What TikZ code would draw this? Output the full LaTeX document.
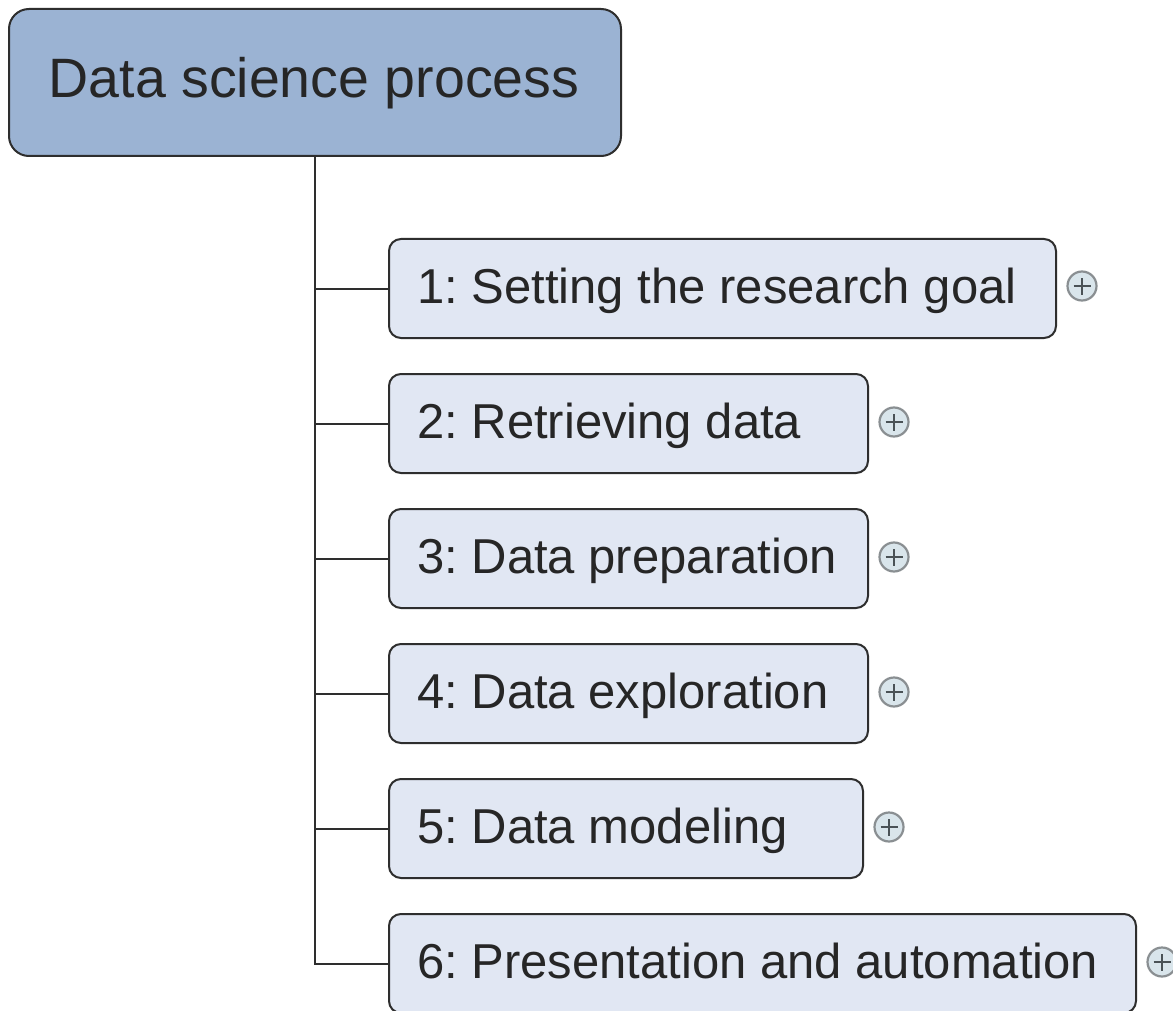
\documentclass[tikz,border=0pt]{standalone}
\usepackage{fontspec}
\setmainfont{Liberation Sans}
\frenchspacing
\definecolor{rootfill}{HTML}{9BB3D3}
\definecolor{childfill}{HTML}{E1E7F3}
\definecolor{edgecol}{HTML}{2E2E2E}
\definecolor{plusfill}{HTML}{D9E5EB}
\definecolor{plusring}{HTML}{8A8F92}
\definecolor{plusbar}{HTML}{4A5256}
\tikzset{
  rootbox/.style={draw=edgecol, line width=2pt, fill=rootfill, rounded corners=20pt, inner sep=0pt},
  childbox/.style={draw=edgecol, line width=2pt, fill=childfill, rounded corners=12pt, inner sep=0pt},
  lbl/.style={anchor=west, inner sep=0pt, text height=35.1pt, text depth=0pt, text=black!85,
    font=\fontsize{49}{57}\selectfont},
  conn/.style={draw=edgecol, line width=2pt},
  plusicon/.style={circle, draw=plusring, line width=2.2pt, fill=plusfill, minimum size=29pt, inner sep=0pt,
    path picture={\draw[plusbar, line width=2.8pt] ([xshift=-8.5pt]path picture bounding box.center) -- ([xshift=8.5pt]path picture bounding box.center);
                  \draw[plusbar, line width=2.8pt] ([yshift=-8.5pt]path picture bounding box.center) -- ([yshift=8.5pt]path picture bounding box.center);}}
}
\begin{document}
\begin{tikzpicture}[x=1pt,y=-1pt]
\useasboundingbox (0,0) rectangle (1173,1011);
\fill[white] (0,0) rectangle (1173,1011);
% root
\node[rootbox, minimum width=612pt, minimum height=147pt, anchor=north west] (root) at (8,8) {};
\node[anchor=center, inner sep=0pt, text height=39.7pt, text depth=0pt, text=black!85, font=\fontsize{55.5}{64}\selectfont] (roottext) at (314,78) {Data science process};
% children boxes
\node[childbox, minimum width=667pt, minimum height=99pt, anchor=north west] (b1) at (388,238) {};
\node[childbox, minimum width=479pt, minimum height=99pt, anchor=north west] (b2) at (388,373) {};
\node[childbox, minimum width=479pt, minimum height=99pt, anchor=north west] (b3) at (388,508) {};
\node[childbox, minimum width=479pt, minimum height=99pt, anchor=north west] (b4) at (388,643) {};
\node[childbox, minimum width=474pt, minimum height=99pt, anchor=north west] (b5) at (388,778) {};
\node[childbox, minimum width=747pt, minimum height=99pt, anchor=north west] (b6) at (388,913) {};
% labels
\node[lbl] (t1) at (417,286) {1: Setting the research goal};
\node[lbl] (t2) at (417,421) {2: Retrieving data};
\node[lbl] (t3) at (417,556) {3: Data preparation};
\node[lbl] (t4) at (417,691) {4: Data exploration};
\node[lbl] (t5) at (417,826) {5: Data modeling};
\node[lbl] (t6) at (417,961) {6: Presentation and automation};
% plus icons
\node[plusicon] (p1) at (1082,286) {};
\node[plusicon] (p2) at (894,422) {};
\node[plusicon] (p3) at (894,557) {};
\node[plusicon] (p4) at (894,692) {};
\node[plusicon] (p5) at (889,827) {};
\node[plusicon] (p6) at (1162,962) {};
% connectors
\draw[conn] (root.south) |- (b6.west);
\draw[conn] (root.south |- b1.west) -- (b1.west);
\draw[conn] (root.south |- b2.west) -- (b2.west);
\draw[conn] (root.south |- b3.west) -- (b3.west);
\draw[conn] (root.south |- b4.west) -- (b4.west);
\draw[conn] (root.south |- b5.west) -- (b5.west);
\end{tikzpicture}
\end{document}
